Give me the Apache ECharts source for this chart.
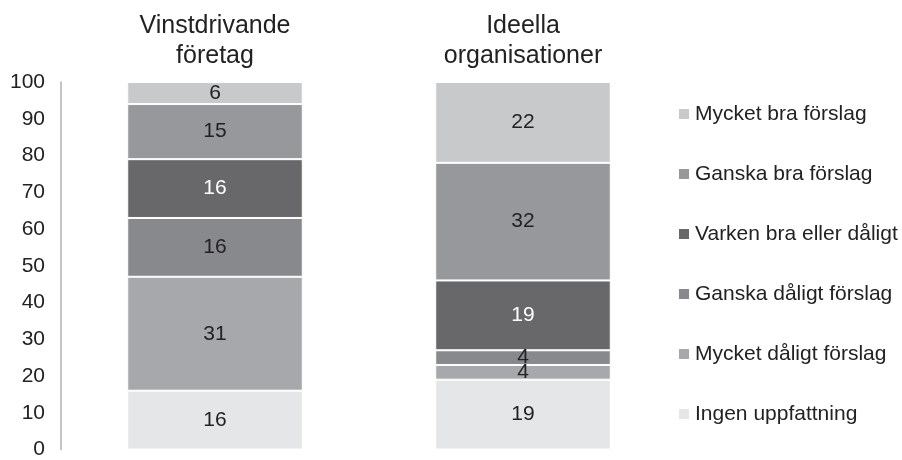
<!DOCTYPE html>
<html>
<head>
<meta charset="utf-8">
<script src="https://cdn.jsdelivr.net/npm/echarts@6/dist/echarts.min.js"></script>
<style>
  html, body { margin: 0; padding: 0; background: #fff; }
  #chart { width: 902px; height: 460px; }
</style>
</head>
<body>
<div id="chart"></div>
<script>
// kategorier och svar (nerifrån och upp i staplarna)
var categories = ['Vinstdrivande\nföretag', 'Ideella\norganisationer'];
var seriesNames = ['Ingen uppfattning', 'Mycket dåligt förslag', 'Ganska dåligt förslag',
  'Varken bra eller dåligt', 'Ganska bra förslag', 'Mycket bra förslag'];
var ingenUppfattning = [16, 19];
var mycketDaligt = [31, 4];
var ganskaDaligt = [16, 4];
var varken = [16, 19];
var ganskaBra = [15, 32];
var mycketBra = [6, 22];
var yTicks = [0, 100, 10];

var values = [ingenUppfattning, mycketDaligt, ganskaDaligt, varken, ganskaBra, mycketBra];
var colors = ['#e5e6e7', '#a7a8ab', '#88898c', '#68686a', '#97989b', '#c8c9cb'];
var labelColors = ['#222', '#222', '#222', '#fff', '#222', '#222'];
var font = "'Liberation Sans', Arial, sans-serif";

var chart = echarts.init(document.getElementById('chart'));

var series = values.map(function (v, i) {
  return {
    name: seriesNames[i],
    type: 'bar',
    stack: 'total',
    barWidth: '57%',
    data: v,
    itemStyle: { color: colors[i], borderColor: '#fff', borderWidth: 1 },
    label: {
      show: true,
      position: 'inside',
      color: labelColors[i],
      fontSize: 21,
      fontFamily: font
    },
    emphasis: { disabled: true }
  };
});

chart.setOption({
  animation: false,
  textStyle: { fontFamily: font },
  color: colors,
  grid: { left: 61, right: 225, top: 82, bottom: 5 },
  legend: {
    orient: 'vertical',
    left: 672,
    top: 97,
    itemWidth: 12,
    itemHeight: 12,
    itemGap: 36,
    icon: 'rect',
    data: seriesNames.slice().reverse(),
    textStyle: { fontSize: 21, color: '#222', lineHeight: 24, fontFamily: font }
  },
  xAxis: {
    type: 'category',
    position: 'top',
    data: categories,
    axisLine: { show: false },
    axisTick: { show: false },
    axisLabel: { fontSize: 25, color: '#222', lineHeight: 30, margin: 11, fontFamily: font }
  },
  yAxis: {
    type: 'value',
    min: yTicks[0],
    max: yTicks[1],
    interval: yTicks[2],
    axisLine: { show: true, lineStyle: { color: '#b0b0b0', width: 1.5 } },
    axisTick: { show: false },
    splitLine: { show: false },
    axisLabel: { fontSize: 21, color: '#222', margin: 16, fontFamily: font }
  },
  series: series
});
</script>
</body>
</html>
